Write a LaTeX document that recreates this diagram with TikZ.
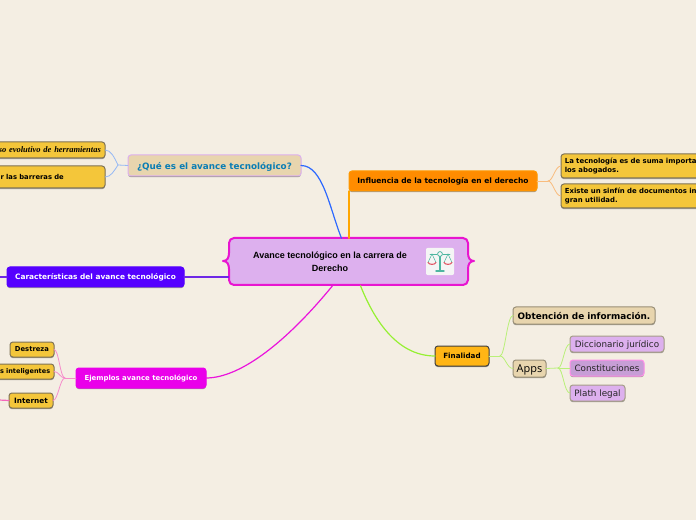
\documentclass[tikz,border=0pt]{standalone}
\usepackage{fontspec}
\setmainfont{DejaVu Sans}
\newfontfamily\lsans{Liberation Sans}
\newfontfamily\lserif{Liberation Serif}
\newfontfamily\osans{Open Sans}
\usetikzlibrary{calc,shadows}
\definecolor{bgc}{HTML}{F4EEE3}
\definecolor{lila}{HTML}{DDB0EE}
\definecolor{sand}{HTML}{E8D5AE}
\definecolor{gold}{HTML}{F4C63A}
\definecolor{goldb}{HTML}{7F7355}
\definecolor{pinkb}{HTML}{E815D0}
\definecolor{tealc}{RGB}{77,182,160}
\definecolor{redc}{RGB}{225,85,100}
\tikzset{
 x=0.75pt,y=-0.75pt,
 box/.style={rounded corners=2.2pt,inner sep=0pt,outer sep=0pt,draw,line width=0.75pt,text depth=0pt,
   drop shadow={shadow xshift=0pt,shadow yshift=-0.9pt,opacity=.35,fill=black},align=center},
 leaf/.style={box,fill=gold,draw=goldb,text=black,font=\fontsize{5.1}{7}\selectfont\bfseries},
 sub/.style={box,fill=lila,draw=goldb!70,text=black!85,font=\fontsize{6.6}{8}\selectfont},
 link/.style={line width=0.6pt,line cap=round},
 trunk/.style={line width=0.9pt,line cap=round},
}
\newcommand{\bx}[7]{\node[#6,minimum width={(#4-#2)*0.75pt},minimum height={(#5-#3)*0.75pt}] (#1) at ({(#2+#4)/2},{(#3+#5)/2}) {#7};}
\newcommand{\pad}{\rule{27.75pt}{0pt}}
\begin{document}
\begin{tikzpicture}
\useasboundingbox (0,0) rectangle (696,520);
\clip (0,0) rectangle (696,520);
\fill[bgc] (0,0) rectangle (696,520);
% central shape
\filldraw[fill=lila,draw=pinkb,line width=1.5pt,line join=round]
 (234,238) -- (463,238) to[out=0,in=90] (468,243) -- (468,253)
 .. controls (468,258) and (470,261) .. (474,261) .. controls (470,261) and (468,264) .. (468,269)
 -- (468,280) to[out=-90,in=0] (463,285) -- (234,285) to[out=180,in=-90] (229,280) -- (229,269)
 .. controls (229,264) and (227,261) .. (223,261) .. controls (227,261) and (229,258) .. (229,253)
 -- (229,243) to[out=90,in=180] cycle;
\node[inner sep=0pt,align=center,minimum width=179.25pt,minimum height=35.25pt,
  font=\lsans\fontsize{6.75}{9.4}\selectfont\bfseries,text=black] (central) at (348.5,262) {Avance tecnológico en la carrera de\pad\\Derecho\pad};
% icon
\node[fill=black!4,rounded corners=1.5pt,minimum width=21pt,minimum height=20.5pt,inner sep=0pt] (icon) at (440,261.5) {};
\begin{scope}[shift={(440,261.5)},line cap=round]
 \draw[tealc,line width=0.6pt] (-10,-7.5) -- (-3,-7.5) (3,-7.5) -- (10,-7.5);
 \draw[tealc,line width=0.6pt] (0,-7.5) circle (2.4);
 \draw[tealc,line width=0.9pt] (0,-5) -- (0,9);
 \draw[tealc,line width=1.1pt] (-4,9.5) -- (4,9.5);
 \draw[tealc,line width=0.4pt] (-12,1) -- (-8,-7.5) -- (-4,1) (4,1) -- (8,-7.5) -- (12,1);
 \draw[redc,line width=0.8pt] (-12,1) .. controls (-11,3.5) and (-5,3.5) .. (-4,1);
 \draw[redc,line width=0.8pt] (4,1) .. controls (5,3.5) and (11,3.5) .. (12,1);
\end{scope}
% main branches
\bx{qa}{128}{155}{301}{176}{box,fill=sand,draw=lila,text={rgb,255:red,10;green,125;blue,180},font=\fontsize{6.6}{8}\selectfont\bfseries}{¿Qué es el avance tecnológico?}
\bx{inf}{349}{171}{537}{191}{box,fill=orange!90!yellow,draw=orange!80!yellow,text=black,font=\fontsize{5.6}{7}\selectfont\bfseries}{Influencia de la tecnología en el derecho}
\bx{car}{7}{267}{184}{287}{box,fill={rgb,255:red,85;green,0;blue,255},draw={rgb,255:red,85;green,0;blue,255},text=white,font=\fontsize{5.55}{7}\selectfont\bfseries}{Características del avance tecnológico}
\bx{eje}{76}{368}{206}{388}{box,fill={rgb,255:red,234;green,0;blue,234},draw={rgb,255:red,234;green,0;blue,234},text=white,font=\fontsize{5.2}{7}\selectfont\bfseries}{Ejemplos avance tecnológico}
\bx{fin}{435}{346}{489}{366}{box,fill={rgb,255:red,255;green,181;blue,21},draw=black!75,text=black,font=\fontsize{5.4}{7}\selectfont\bfseries}{Finalidad}
% leaves
\bx{pro}{-10}{142}{105}{158}{leaf,font=\lserif\fontsize{6.35}{8}\selectfont\bfseries\itshape,text width=80pt,align=right}{so evolutivo de herramientas}
\bx{sup}{-10}{166}{105}{188}{leaf,text depth={},text width=85.5pt,align=left}{\hspace*{7.5pt}r las barreras de\\[11.5pt]}
\bx{tec}{561}{154}{710}{178}{leaf,text depth={},font=\fontsize{5.2}{6.75}\selectfont\bfseries,text width=106pt,align=left}{La tecnología es de suma importa\\los abogados.}
\bx{exi}{561}{184}{710}{208}{leaf,text depth={},font=\fontsize{5.2}{6.75}\selectfont\bfseries,text width=106pt,align=left}{Existe un sinfín de documentos in\\gran utilidad.}
\bx{des}{10}{342}{54}{357}{leaf}{Destreza}
\bx{int}{-5}{364}{54}{379}{leaf,font=\fontsize{4.9}{7}\selectfont\bfseries,text width=36.75pt,align=right}{\mbox{s inteligentes}}
\bx{net}{9}{393}{53}{408}{leaf,font=\fontsize{5.5}{7}\selectfont\bfseries}{Internet}
\bx{obt}{513}{307}{655}{324}{box,fill=sand,draw=goldb!80,text=black,font=\fontsize{6.65}{8}\selectfont\bfseries}{Obtención de información.}
\bx{app}{513}{360}{546}{377}{box,fill=sand,draw=goldb!80,text=black,font=\osans\fontsize{8.2}{9}\selectfont}{Apps}
\bx{dic}{570}{336}{664}{352}{sub}{Diccionario jurídico}
\bx{con}{570}{360}{644}{376}{sub,draw=pink!50!magenta!70,fill=lila!90!black}{Constituciones}
\bx{pla}{570}{385}{625}{401}{sub}{Plath legal}
% connector junctions and free ends
\coordinate (jq) at (118,165);
\coordinate (ji) at (548,181);
\coordinate (jf) at (500,356);
\coordinate (ja) at (558,368);
\coordinate (je) at (65,378);
\coordinate (fc) at (-1,277);
\coordinate (fn) at (-1,400);
% trunks
\draw[trunk,draw={rgb,255:red,45;green,105;blue,255}] (qa.east) .. controls +(22,0) and +(-12,-30) .. ($(central.north)+(-7,0)$);
\draw[trunk,draw=orange!70!yellow] (inf.south west) -- (inf.south west |- central.north);
\draw[trunk,draw={rgb,255:red,110;green,40;blue,230}] (car.east) -- ($(central.west)+(0,15)$);
\draw[trunk,draw={rgb,255:red,234;green,20;blue,220}] (eje.east) .. controls +(35,0) and +(-45,55) .. ($(central.south)+(-16,0)$);
\draw[trunk,draw={rgb,255:red,150;green,240;blue,50}] (fin.west) .. controls +(-40,0) and +(12,30) .. ($(central.south)+(12,0)$);
\draw[trunk,draw={rgb,255:red,110;green,40;blue,230}] (car.west) -- (fc);
\draw[trunk,draw=magenta!60] (net.west) -- (fn);
% sub links
\begin{scope}[draw={rgb,255:red,150;green,185;blue,245}]
\draw[link] (qa.west) -- (jq);
\draw[link] (jq) .. controls +(-4,-8) and +(6,0) .. (pro.east);
\draw[link] (jq) .. controls +(-4,6) and +(6,0) .. (sup.east);
\end{scope}
\begin{scope}[draw=orange!45!bgc]
\draw[link] (inf.east) -- (ji);
\draw[link] (ji) .. controls +(5,0) and +(-6,0) .. (tec.west);
\draw[link] (ji) .. controls +(5,0) and +(-6,0) .. (exi.west);
\end{scope}
\begin{scope}[draw={rgb,255:red,185;green,240;blue,120}]
\draw[link] (fin.east) -- (jf);
\draw[link] (jf) .. controls +(5,0) and +(-6,0) .. (obt.west);
\draw[link] (jf) .. controls +(5,0) and +(-6,0) .. (app.west);
\draw[link] (app.east) -- (ja);
\draw[link] (ja) .. controls +(5,0) and +(-6,0) .. (dic.west);
\draw[link] (ja) -- (con.west);
\draw[link] (ja) .. controls +(5,0) and +(-6,0) .. (pla.west);
\end{scope}
\begin{scope}[draw=magenta!45]
\draw[link] (eje.west) -- (je);
\draw[link] (je) .. controls +(-5,0) and +(5,0) .. (des.east);
\draw[link] (je) .. controls +(-5,0) and +(5,0) .. (int.east);
\draw[link] (je) .. controls +(-5,0) and +(5,0) .. (net.east);
\end{scope}
\end{tikzpicture}
\end{document}
